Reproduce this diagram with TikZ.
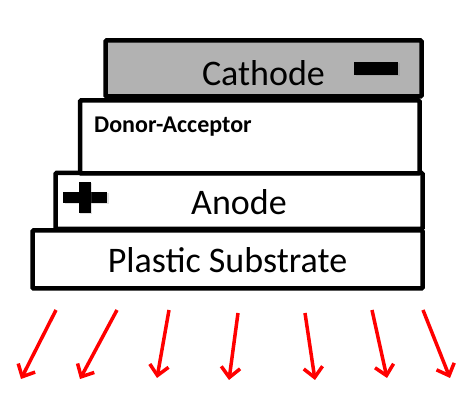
\documentclass[tikz,border=0pt]{standalone}
\usepackage{fontspec}
\setmainfont{Carlito}
\usetikzlibrary{arrows.meta,calc,shadows}
\definecolor{CathodeClr}{rgb}{0.7,0.7,0.7}
\definecolor{RayClr}{rgb}{1,0,0}

\tikzset{
  layer/.style={draw=black,line width=4.5pt,rounded corners=1pt,fill=white,
    inner sep=0pt,outer sep=0pt,anchor=north west},
  lbl/.style={inner sep=0pt,anchor=base,font=\fontsize{36}{40}\selectfont},
  sign/.style={fill=black,drop shadow={shadow xshift=1.5pt,shadow yshift=-1.5pt,opacity=0.25}},
  ray/.style={RayClr,line width=3.5pt,-{Straight Barb[length=10pt,width=19pt]}}
}

\begin{document}
\begin{tikzpicture}[x=1pt,y=-1pt]
\useasboundingbox (0,0) rectangle (475,414);

% layers, from the bottom up
\node[layer,minimum width=390pt,minimum height=58pt] (substrate) at (32.5,230.5) {};
\node[layer,minimum width=367pt,minimum height=56pt] (anode) at (55.5,173) {};
\node[layer,minimum width=339.5pt,minimum height=73pt] (donor) at (80,100.5) {};
\node[layer,fill=CathodeClr,minimum width=316pt,minimum height=56pt] (cathode) at (105.5,40.5) {};

% labels
\node[lbl] (tsub) at ($(substrate.south)+(0,-15.5)$) {Plastic Substrate};
\node[lbl] (tano) at ($(anode.south)+(0,-14)$) {Anode};
\node[lbl] (tcat) at ($(cathode.south)+(0,-11)$) {Cathode};
\node[inner sep=0pt,anchor=base west,font=\fontsize{24}{28}\bfseries] (tdon)
  at ($(donor.north west)+(14,32.5)$) {Donor-Acceptor};

% signs
\node[sign,inner sep=0pt,minimum width=44pt,minimum height=13pt] (minus) at (376,68.5) {};
\fill[sign] (63,192) rectangle (107,203);
\fill[sign] (78.5,182) rectangle (90.5,213);

% light leaving through the substrate
\foreach \n/\xa/\ya/\xb/\yb in {1/56/310/21/379, 2/117/310/80/379, 3/169/310/157/378,
    4/238/313/229/380, 5/305/313/315/380, 6/372/310/387/378, 7/423/310/450/378}{
  \coordinate (s\n) at (\xa,\ya);
  \coordinate (e\n) at (\xb,\yb);
  \draw[ray] (s\n) -- (e\n);
}

\end{tikzpicture}
\end{document}
